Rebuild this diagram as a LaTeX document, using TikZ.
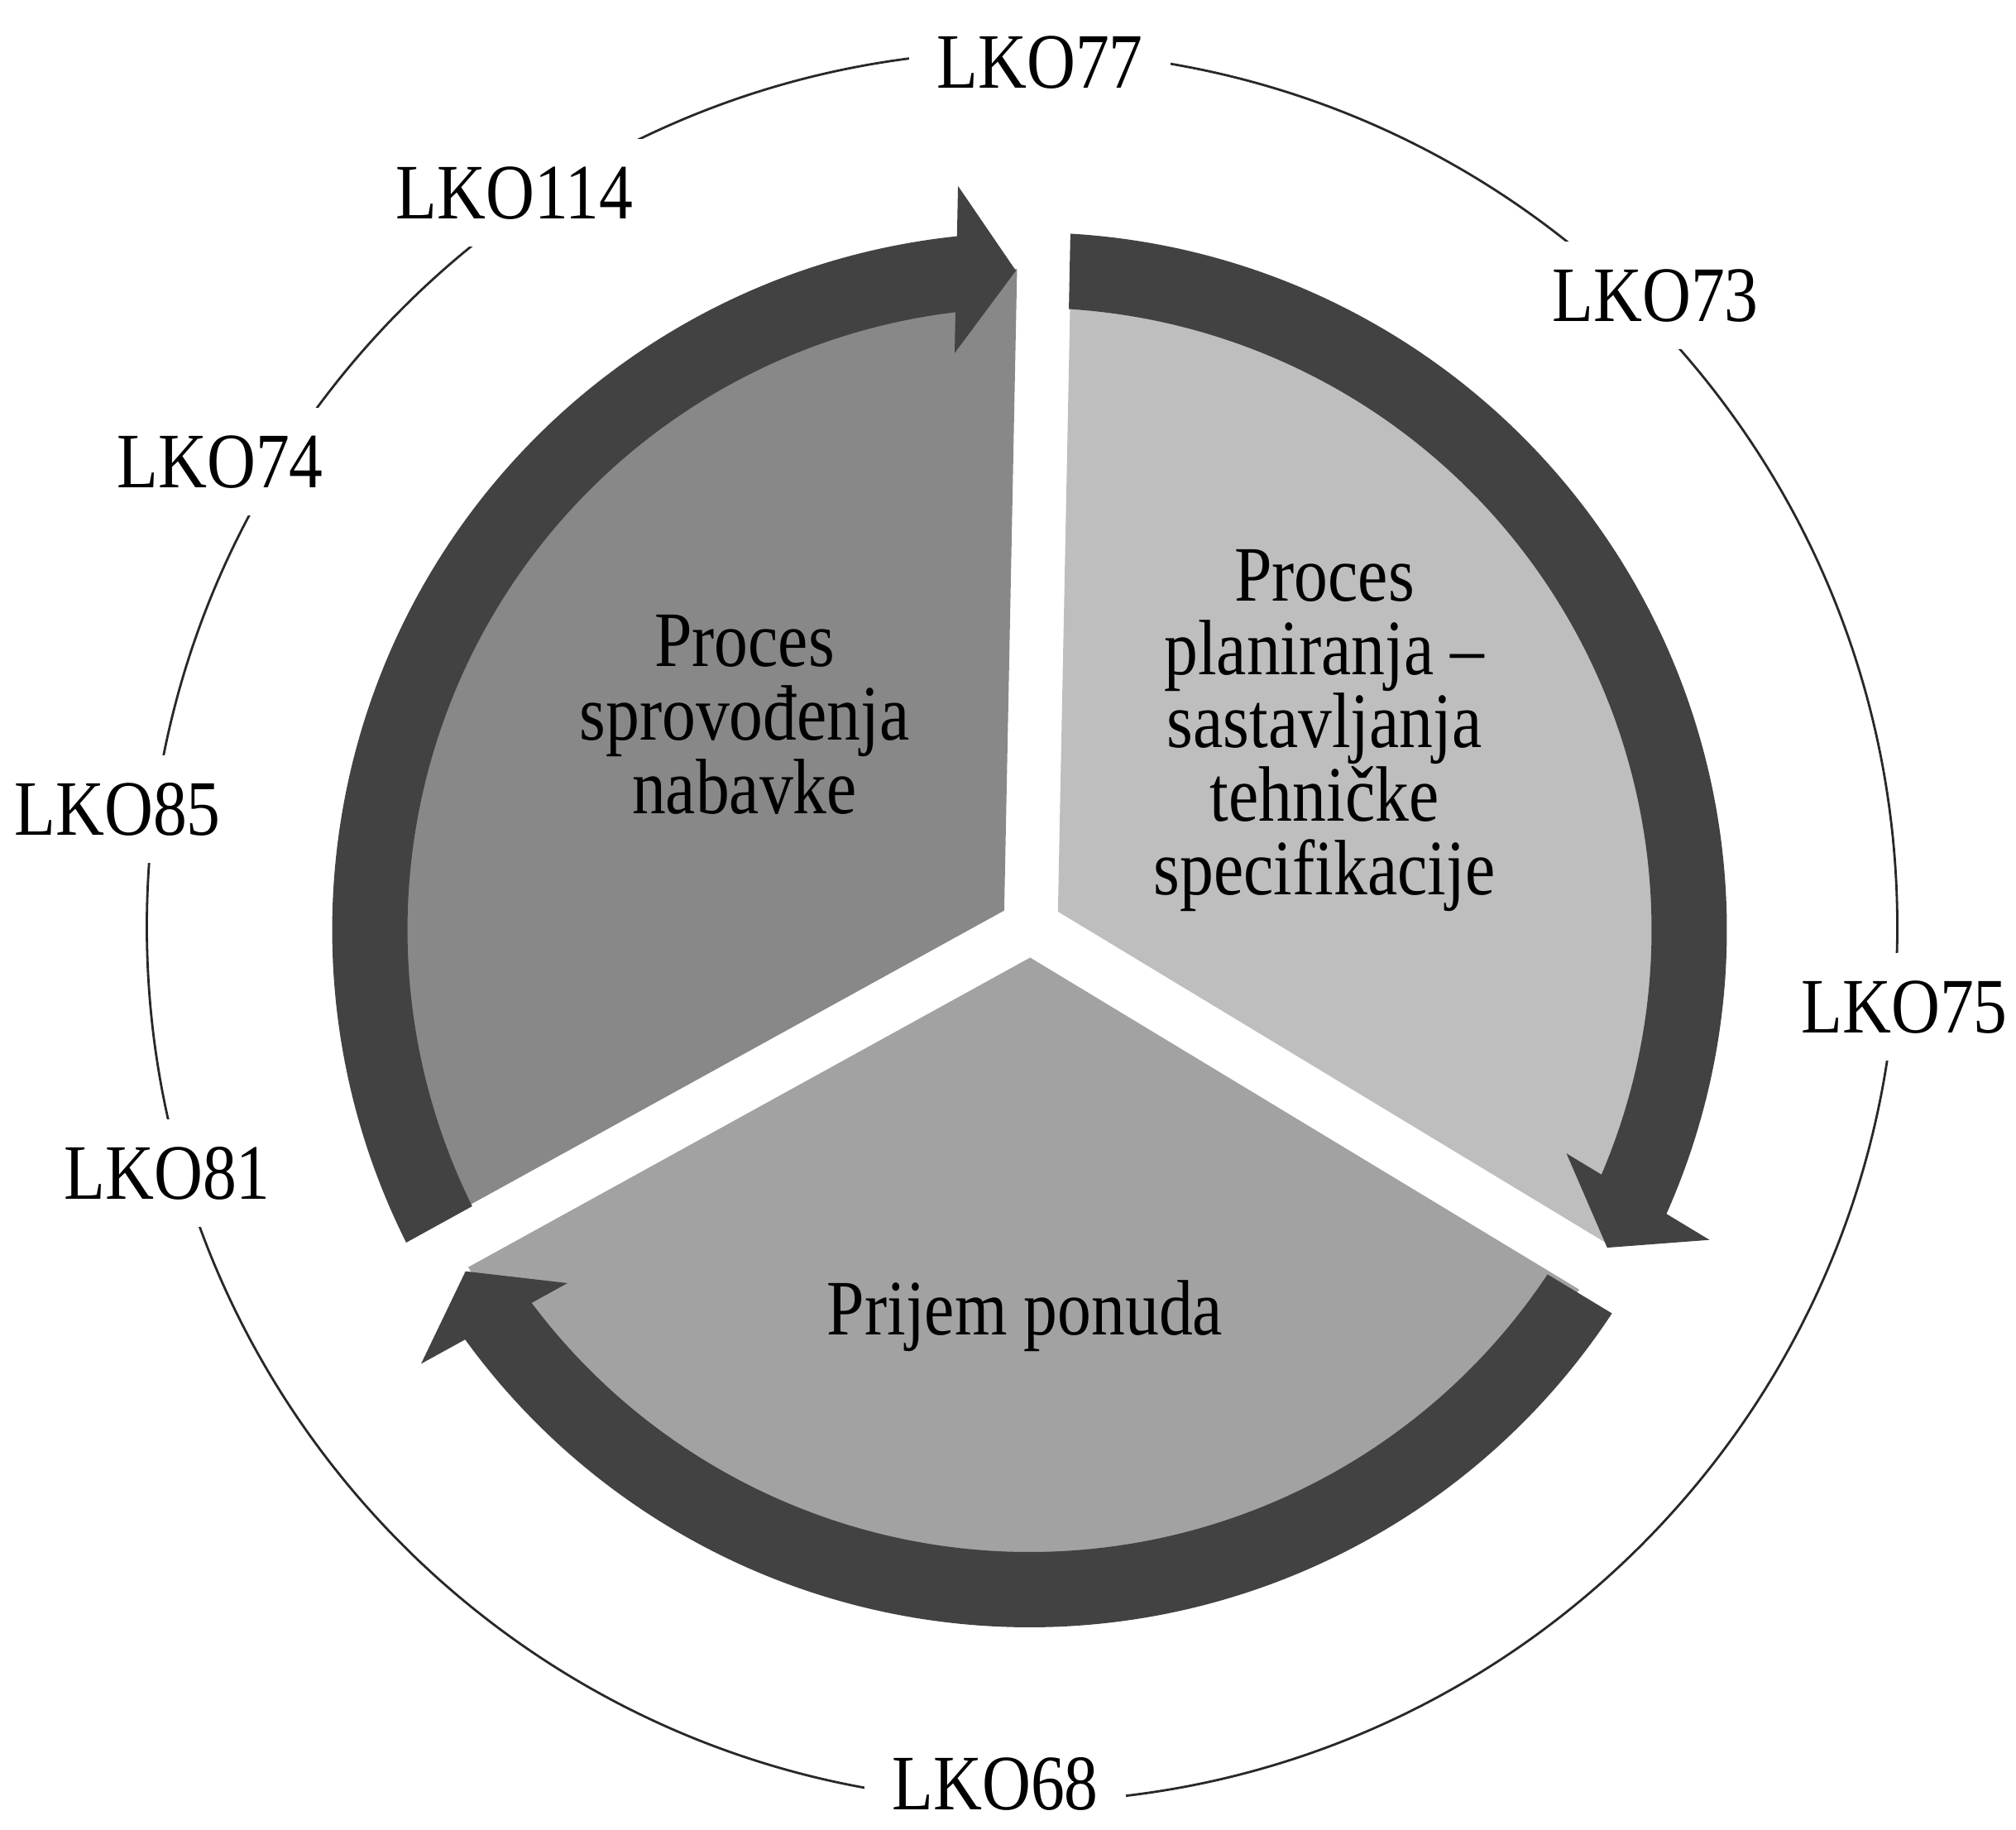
\documentclass[tikz,border=0pt]{standalone}
\usepackage{fontspec}
\setmainfont{Liberation Serif}[FakeStretch=0.86]
\definecolor{ringc}{RGB}{66,66,66}
\definecolor{secul}{RGB}{136,136,136}
\definecolor{secr}{RGB}{190,190,190}
\definecolor{secb}{RGB}{162,162,162}
\definecolor{thinc}{RGB}{40,40,40}
\newcommand{\ringband}[2]{%
  \fill[ringc] (#1-2.2096:8.43) arc[start angle=#1-2.2096, end angle=#2+7.121, radius=8.43]
    -- (#2+6.643:9.034) -- (#2+2.337:7.97) -- (#2+8.547:7.031) -- (#2+7.988:7.52)
    arc[start angle=#2+7.988, end angle=#1-2.477, radius=7.52] -- cycle;}
\newcommand{\piesector}[3]{%
  \fill[#3] ({(#1+#2)/2}:0.375) -- (#1+2.343:7.95)
    arc[start angle=#1+2.343, end angle=#2-2.343, radius=7.95] -- cycle;}
\begin{document}
\begin{tikzpicture}[
  font=\fontsize{27pt}{25.3pt}\selectfont,
  lbl/.style={fill=white, inner xsep=0.33cm, inner ysep=0.33cm, text height=0.64cm, text depth=0pt},
  intext/.style={align=center, inner sep=0pt}
]
\useasboundingbox (0,0) rectangle (24.37,22.11);
\fill[white] (0,0) rectangle (24.37,22.11);
% thin outer circle
\draw[thinc, line width=0.8pt] (12.355,10.91) circle[radius=10.58];
% pie sectors
\begin{scope}[shift={(12.46,10.91)}]
  \piesector{88.85}{208.85}{secul}
  \piesector{-31.15}{88.85}{secr}
  \piesector{208.85}{328.85}{secb}
\end{scope}
% arrow ring
\begin{scope}[shift={(12.445,10.87)}]
  \ringband{208.85}{88.85}
  \ringband{88.85}{-31.15}
  \ringband{328.85}{208.85}
\end{scope}
% sector texts
\node[intext] (sprov) at (9.00,13.47) {Proces\\sprovođenja\\nabavke};
\node[intext] (plan) at (16.01,13.28) {Proces\\planiranja –\\sastavljanja\\tehničke\\specifikacije};
\node[intext] (prijem) at (12.39,6.20) {Prijem ponuda};
% labels on outer circle
\node[lbl] (l77) at (12.57,21.36) {LKO77};
\node[lbl] (l114) at (6.22,19.78) {LKO114};
\node[lbl] (l73) at (20.01,18.54) {LKO73};
\node[lbl] (l74) at (2.66,16.53) {LKO74};
\node[lbl] (l85) at (1.42,12.33) {LKO85};
\node[lbl] (l81) at (2.02,7.93) {LKO81};
\node[lbl] (l75) at (23.02,9.94) {LKO75};
\node[lbl, inner ysep=0.02cm] (l68) at (12.03,0.56) {LKO68};
\end{tikzpicture}
\end{document}
